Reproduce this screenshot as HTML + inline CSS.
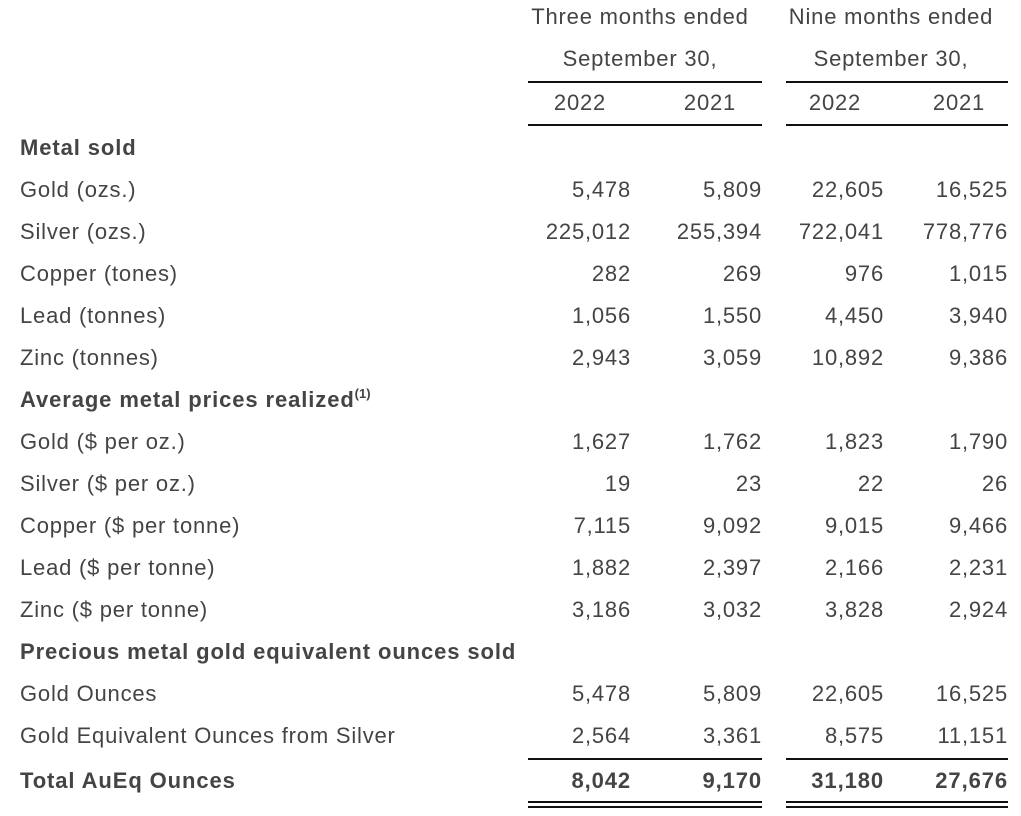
<!DOCTYPE html>
<html><head><meta charset="utf-8"><style>
body{margin:0;width:1021px;height:816px;background:#fff;position:relative;overflow:hidden;font-family:"Liberation Sans",Arial,sans-serif;font-size:22px;letter-spacing:0.8px;color:#444}
.t{position:absolute;height:30px;line-height:30px;white-space:nowrap;margin-top:0px}
.l{left:20px}
.r{text-align:right;width:200px;margin-right:-1px}
.c{text-align:center;width:260px}
.b{font-weight:bold;letter-spacing:0.9px}
.ln{position:absolute;height:2px;background:#111}
sup{font-size:13px;vertical-align:top;line-height:18px;letter-spacing:0}
</style></head><body>
<div class="t c" style="left:510px;top:2px">Three months ended</div>
<div class="t c" style="left:761px;top:2px">Nine months ended</div>
<div class="t c" style="left:510px;top:44px">September 30,</div>
<div class="t c" style="left:761px;top:44px">September 30,</div>
<div class="ln" style="left:528px;width:234px;top:81px"></div>
<div class="ln" style="left:786px;width:222px;top:81px"></div>
<div class="t c" style="left:450px;top:88px">2022</div>
<div class="t c" style="left:580px;top:88px">2021</div>
<div class="t c" style="left:705px;top:88px">2022</div>
<div class="t c" style="left:829px;top:88px">2021</div>
<div class="ln" style="left:528px;width:234px;top:124px"></div>
<div class="ln" style="left:786px;width:222px;top:124px"></div>

<div class="t l b" style="top:133px">Metal sold</div>
<div class="t l" style="top:175px">Gold (ozs.)</div>
<div class="t l" style="top:217px">Silver (ozs.)</div>
<div class="t l" style="top:259px">Copper (tones)</div>
<div class="t l" style="top:301px">Lead (tonnes)</div>
<div class="t l" style="top:343px">Zinc (tonnes)</div>
<div class="t l b" style="top:385px">Average metal prices realized<sup>(1)</sup></div>
<div class="t l" style="top:427px">Gold ($ per oz.)</div>
<div class="t l" style="top:469px">Silver ($ per oz.)</div>
<div class="t l" style="top:511px">Copper ($ per tonne)</div>
<div class="t l" style="top:553px">Lead ($ per tonne)</div>
<div class="t l" style="top:595px">Zinc ($ per tonne)</div>
<div class="t l b" style="top:637px">Precious metal gold equivalent ounces sold</div>
<div class="t l" style="top:679px">Gold Ounces</div>
<div class="t l" style="top:721px">Gold Equivalent Ounces from Silver</div>
<div class="t l b" style="top:766px">Total AuEq Ounces</div>

<div class="t r" style="left:431px;top:175px">5,478</div><div class="t r" style="left:562px;top:175px">5,809</div><div class="t r" style="left:684px;top:175px">22,605</div><div class="t r" style="left:808px;top:175px">16,525</div>
<div class="t r" style="left:431px;top:217px">225,012</div><div class="t r" style="left:562px;top:217px">255,394</div><div class="t r" style="left:684px;top:217px">722,041</div><div class="t r" style="left:808px;top:217px">778,776</div>
<div class="t r" style="left:431px;top:259px">282</div><div class="t r" style="left:562px;top:259px">269</div><div class="t r" style="left:684px;top:259px">976</div><div class="t r" style="left:808px;top:259px">1,015</div>
<div class="t r" style="left:431px;top:301px">1,056</div><div class="t r" style="left:562px;top:301px">1,550</div><div class="t r" style="left:684px;top:301px">4,450</div><div class="t r" style="left:808px;top:301px">3,940</div>
<div class="t r" style="left:431px;top:343px">2,943</div><div class="t r" style="left:562px;top:343px">3,059</div><div class="t r" style="left:684px;top:343px">10,892</div><div class="t r" style="left:808px;top:343px">9,386</div>
<div class="t r" style="left:431px;top:427px">1,627</div><div class="t r" style="left:562px;top:427px">1,762</div><div class="t r" style="left:684px;top:427px">1,823</div><div class="t r" style="left:808px;top:427px">1,790</div>
<div class="t r" style="left:431px;top:469px">19</div><div class="t r" style="left:562px;top:469px">23</div><div class="t r" style="left:684px;top:469px">22</div><div class="t r" style="left:808px;top:469px">26</div>
<div class="t r" style="left:431px;top:511px">7,115</div><div class="t r" style="left:562px;top:511px">9,092</div><div class="t r" style="left:684px;top:511px">9,015</div><div class="t r" style="left:808px;top:511px">9,466</div>
<div class="t r" style="left:431px;top:553px">1,882</div><div class="t r" style="left:562px;top:553px">2,397</div><div class="t r" style="left:684px;top:553px">2,166</div><div class="t r" style="left:808px;top:553px">2,231</div>
<div class="t r" style="left:431px;top:595px">3,186</div><div class="t r" style="left:562px;top:595px">3,032</div><div class="t r" style="left:684px;top:595px">3,828</div><div class="t r" style="left:808px;top:595px">2,924</div>
<div class="t r" style="left:431px;top:679px">5,478</div><div class="t r" style="left:562px;top:679px">5,809</div><div class="t r" style="left:684px;top:679px">22,605</div><div class="t r" style="left:808px;top:679px">16,525</div>
<div class="t r" style="left:431px;top:721px">2,564</div><div class="t r" style="left:562px;top:721px">3,361</div><div class="t r" style="left:684px;top:721px">8,575</div><div class="t r" style="left:808px;top:721px">11,151</div>
<div class="ln" style="left:528px;width:234px;top:758px"></div>
<div class="ln" style="left:786px;width:222px;top:758px"></div>
<div class="t r b" style="left:431px;top:766px">8,042</div><div class="t r b" style="left:562px;top:766px">9,170</div><div class="t r b" style="left:684px;top:766px">31,180</div><div class="t r b" style="left:808px;top:766px">27,676</div>
<div class="ln" style="left:528px;width:234px;top:801px"></div>
<div class="ln" style="left:786px;width:222px;top:801px"></div>
<div class="ln" style="left:528px;width:234px;top:806px"></div>
<div class="ln" style="left:786px;width:222px;top:806px"></div>
</body></html>
